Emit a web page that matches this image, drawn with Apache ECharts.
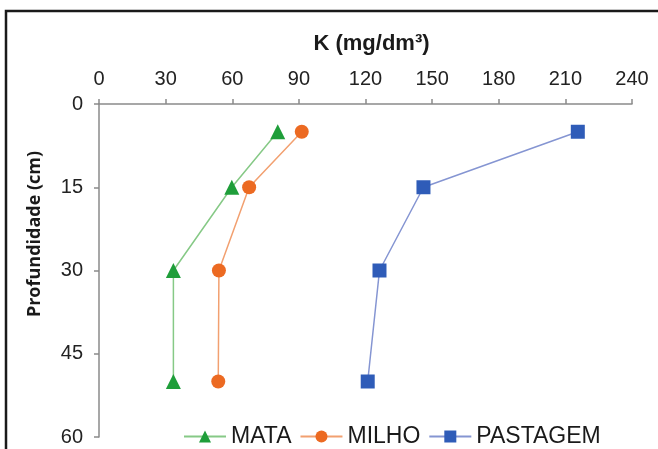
<!DOCTYPE html>
<html>
<head>
<meta charset="utf-8">
<script src="https://cdn.jsdelivr.net/npm/echarts@6/dist/echarts.min.js"></script>
<style>html,body{margin:0;padding:0;background:#fff;}#c{width:658px;height:449px;}</style>
</head>
<body>
<div id="c"></div>
<script>
const depths = [5, 15, 30, 50];
const mata = [80.5, 59.8, 33.5, 33.5];
const milho = [91.3, 67.6, 54, 53.7];
const pastagem = [215.6, 146.1, 126.3, 121];
const xTicks = [0, 30, 60, 90, 120, 150, 180, 210, 240];
const yTicks = [0, 15, 30, 45, 60];

const pairs = (xs) => xs.map((v, i) => [v, depths[i]]);
const font = 'Liberation Sans, Arial, sans-serif';

const chart = echarts.init(document.getElementById('c'));
chart.setOption({
  animation: false,
  backgroundColor: '#fff',
  graphic: [{
    type: 'rect',
    shape: { x: 6, y: 11, width: 700, height: 500 },
    style: { fill: 'none', stroke: '#1a1a1a', lineWidth: 2.5 },
    silent: true
  }, {
    type: 'text',
    x: 35, y: 234,
    rotation: Math.PI / 2,
    style: {
      text: 'Profundidade (cm)',
      font: 'bold 18px "Open Sans", sans-serif',
      fill: '#1a1a1a',
      align: 'center', verticalAlign: 'middle'
    },
    silent: true
  }],
  grid: { left: 99, top: 104, right: 26, bottom: 12 },
  xAxis: {
    type: 'value', position: 'top',
    min: xTicks[0], max: xTicks[xTicks.length - 1], interval: 30,
    name: 'K (mg/dm³)', nameLocation: 'middle', nameGap: 49,
    nameTextStyle: { fontFamily: font, fontWeight: 'bold', fontSize: 22, color: '#1a1a1a', padding: [0, 0, 0, 12] },
    axisLine: { show: true, lineStyle: { color: '#8a8a8a', width: 1.5 } },
    axisTick: { show: true, inside: false, length: 5, lineStyle: { color: '#8a8a8a', width: 1.5 } },
    axisLabel: { fontFamily: font, fontSize: 20, color: '#222', margin: 15 },
    splitLine: { show: false }
  },
  yAxis: {
    type: 'value', inverse: true,
    min: yTicks[0], max: yTicks[yTicks.length - 1], interval: 15,
    axisLine: { show: true, lineStyle: { color: '#8a8a8a', width: 1.5 } },
    axisTick: { show: true, inside: false, length: 5, lineStyle: { color: '#8a8a8a', width: 1.5 } },
    axisLabel: { fontFamily: font, fontSize: 20, color: '#222', margin: 16 },
    splitLine: { show: false }
  },
  legend: {
    bottom: -4, left: 178,
    itemWidth: 42, itemHeight: 15, itemGap: 8,
    textStyle: { fontFamily: font, fontSize: 23, color: '#1a1a1a', padding: [0, 0, 0, 0] },
    data: ['MATA', 'MILHO', 'PASTAGEM']
  },
  series: [
    {
      name: 'MATA', type: 'line', data: pairs(mata),
      symbol: 'triangle', symbolSize: 15,
      lineStyle: { color: '#86c986', width: 1.5 },
      itemStyle: { color: '#1f9e3a' }
    },
    {
      name: 'MILHO', type: 'line', data: pairs(milho),
      symbol: 'circle', symbolSize: 14,
      lineStyle: { color: '#f2a070', width: 1.5 },
      itemStyle: { color: '#ec6a22' }
    },
    {
      name: 'PASTAGEM', type: 'line', data: pairs(pastagem),
      symbol: 'rect', symbolSize: 14,
      lineStyle: { color: '#8595d2', width: 1.5 },
      itemStyle: { color: '#2f5cb8' }
    }
  ]
});
</script>
</body>
</html>
